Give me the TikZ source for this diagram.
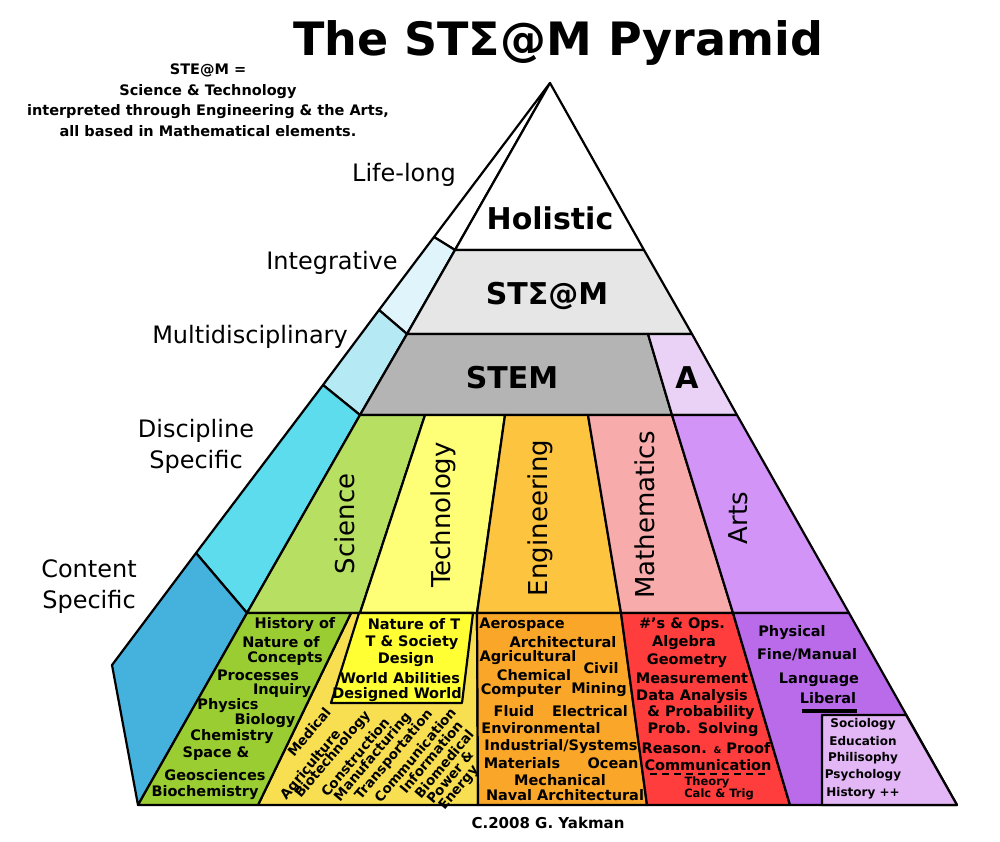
\documentclass[tikz,border=0pt]{standalone}
\usepackage{fontspec}
\setmainfont{DejaVu Sans}
\definecolor{intcol}{HTML}{E0F5FB}
\definecolor{multicol}{HTML}{B5EAF5}
\definecolor{disccol}{HTML}{5CDCEC}
\definecolor{contcol}{HTML}{45B1DD}
\definecolor{steamcol}{HTML}{E6E6E6}
\definecolor{stemcol}{HTML}{B4B4B4}
\definecolor{acol}{HTML}{E9D2F5}
\definecolor{scicol}{HTML}{B7E063}
\definecolor{techcol}{HTML}{FFFF77}
\definecolor{engcol}{HTML}{FDC43F}
\definecolor{mathcol}{HTML}{F7ABAB}
\definecolor{artscol}{HTML}{D394F7}
\definecolor{scibox}{HTML}{9ACD32}
\definecolor{techbox}{HTML}{F8DF52}
\definecolor{naturebox}{HTML}{FFFF33}
\definecolor{engbox}{HTML}{FAA628}
\definecolor{mathbox}{HTML}{FF3D3D}
\definecolor{artsbox}{HTML}{B96BEA}
\definecolor{subbox}{HTML}{E3B6F5}
\begin{document}
\begin{tikzpicture}[x=1pt, y=-1pt,
  face/.style={draw=black, line width=2.2pt, line join=round},
  lbl/.style={font=\fontsize{24}{31}\selectfont, align=center},
  band/.style={font=\bfseries\fontsize{30}{32}\selectfont},
  col/.style={rotate=90, font=\fontsize{26}{28}\selectfont},
  item/.style={font=\bfseries\fontsize{14.5}{16}\selectfont, inner sep=0pt},
  small/.style={font=\bfseries\fontsize{11.5}{13}\selectfont, inner sep=0pt},
  techword/.style={rotate=50, font=\bfseries\fontsize{13.5}{14}\selectfont, inner sep=0pt}
]
\useasboundingbox (0,0) rectangle (1000,842);

% corner points of the pyramid
\coordinate (apex) at (550,83);
\coordinate (o1) at (434,237);
\coordinate (o2) at (379,310);
\coordinate (o3) at (323,385);
\coordinate (o4) at (196,553);
\coordinate (o5) at (112,665);
\coordinate (f1) at (455,250);
\coordinate (f2) at (407,334);
\coordinate (f3) at (360,415);
\coordinate (f4) at (247,613);
\coordinate (f5) at (138,805);
\coordinate (r1) at (644,250);
\coordinate (r2) at (692,334);
\coordinate (r3) at (737,415);
\coordinate (r4) at (849,613);
\coordinate (r6) at (906,715);
\coordinate (r5) at (957,805);
\coordinate (a1) at (648,334);
\coordinate (c1) at (425,415);
\coordinate (c2) at (505,415);
\coordinate (c3) at (588,415);
\coordinate (c4) at (672,415);
\coordinate (b1) at (360,613);
\coordinate (b2) at (477,613);
\coordinate (b3) at (621,613);
\coordinate (b4) at (733,613);
\coordinate (s1) at (351,613);
\coordinate (s2) at (258,805);
\coordinate (e1) at (478,805);
\coordinate (e2) at (647,805);
\coordinate (m1) at (790,805);
\coordinate (n1) at (359,613);
\coordinate (n2) at (473,613);
\coordinate (n3) at (462,703);
\coordinate (n4) at (331,703);
\coordinate (u1) at (822,715);
\coordinate (u2) at (822,805);

% side face
\filldraw[face, fill=white] (apex) -- (o1) -- (f1) -- cycle;
\filldraw[face, fill=intcol] (o1) -- (o2) -- (f2) -- (f1) -- cycle;
\filldraw[face, fill=multicol] (o2) -- (o3) -- (f3) -- (f2) -- cycle;
\filldraw[face, fill=disccol] (o3) -- (o4) -- (f4) -- (f3) -- cycle;
\filldraw[face, fill=contcol] (o4) -- (o5) -- (f5) -- (f4) -- cycle;

% front bands
\filldraw[face, fill=white] (apex) -- (f1) -- (r1) -- cycle;
\filldraw[face, fill=steamcol] (f1) -- (r1) -- (r2) -- (f2) -- cycle;
\filldraw[face, fill=stemcol] (f2) -- (a1) -- (c4) -- (f3) -- cycle;
\filldraw[face, fill=acol] (a1) -- (r2) -- (r3) -- (c4) -- cycle;

% discipline columns
\filldraw[face, fill=scicol] (f3) -- (c1) -- (b1) -- (f4) -- cycle;
\filldraw[face, fill=techcol] (c1) -- (c2) -- (b2) -- (b1) -- cycle;
\filldraw[face, fill=engcol] (c2) -- (c3) -- (b3) -- (b2) -- cycle;
\filldraw[face, fill=mathcol] (c3) -- (c4) -- (b4) -- (b3) -- cycle;
\filldraw[face, fill=artscol] (c4) -- (r3) -- (r4) -- (b4) -- cycle;

% content boxes
\filldraw[face, fill=techbox] (s1) -- (b2) -- (e1) -- (s2) -- cycle;
\filldraw[face, fill=scibox] (f4) -- (s1) -- (s2) -- (f5) -- cycle;
\filldraw[face, fill=naturebox] (n1) -- (n2) -- (n3) -- (n4) -- cycle;
\filldraw[face, fill=engbox] (b2) -- (b3) -- (e2) -- (e1) -- cycle;
\filldraw[face, fill=mathbox] (b3) -- (b4) -- (m1) -- (e2) -- cycle;
\filldraw[face, fill=artsbox] (b4) -- (r4) -- (r5) -- (m1) -- cycle;
\filldraw[face, fill=subbox] (u1) -- (r6) -- (r5) -- (u2) -- cycle;

% title and notes
\node[font=\bfseries\fontsize{46}{48}\selectfont] (title) at (558,43) {The STΣ@M Pyramid};
\node[font=\bfseries\fontsize{14.5}{20.5}\selectfont, align=center] (note) at (208,100)
  {STE@M =\\Science \& Technology\\interpreted through Engineering \& the Arts,\\all based in Mathematical elements.};
\node[font=\bfseries\fontsize{15}{16}\selectfont] (credit) at (548,823) {C.2008 G. Yakman};

% side labels
\node[lbl] (lifelong) at (404,175) {Life-long};
\node[lbl] (integrative) at (332,263) {Integrative};
\node[lbl] (multi) at (250,337) {Multidisciplinary};
\node[lbl] (discipline) at (196,446) {Discipline\\Specific};
\node[lbl] (content) at (89,587) {Content\\Specific};

% band labels
\node[band] (holistic) at (550,218) {Holistic};
\node[band] (steam) at (547,296) {STΣ@M};
\node[band] (stem) at (512,378) {STEM};
\node[band] (arta) at (687,378) {A};

% column labels
\node[col] (science) at (345,524) {Science};
\node[col] (technology) at (443,515) {Technology};
\node[col] (engineering) at (540,518) {Engineering};
\node[col] (mathematics) at (645,515) {Mathematics};
\node[col] (arts) at (738,518) {Arts};

% science content
\foreach \x/\y/\t [count=\i] in {295/625/History of, 281/642/Nature of, 285/659/Concepts,
    258/675/Processes, 282/691/Inquiry, 228/706/Physics, 265/721/Biology, 232/737/Chemistry,
    216/754/Space \&, 215/775/Geosciences, 205/793/Biochemistry}
  \node[item] (sci\i) at (\x,\y) {\t};

% technology content
\foreach \x/\y/\t [count=\i] in {414/624/Nature of T, 412/643/T \& Society, 406/660/Design,
    400/678/World Abilities, 397/695/Designed World}
  \node[item] (tec\i) at (\x,\y) {\t};
\foreach \x/\y/\t [count=\i] in {309/732/Medical, 311/765/Agriculture, 333/755/Biotechnology,
    355/757/Construction, 373/757/Manufacturing, 394/755/Transportation, 415/755/Communication,
    431/757/Information, 444/764/Biomedical, 450/777/Power \&, 459/788/Energy}
  \node[techword] (tw\i) at (\x,\y) {\t};

% engineering content
\foreach \x/\y/\t [count=\i] in {522/625/Aerospace, 563/642/Architectural, 528/658/Agricultural,
    601/668/Civil, 534/675/Chemical, 521/691/Computer, 599/690/Mining, 514/711/Fluid,
    590/711/Electrical, 541/728/Environmental, 561/747/{Industrial/Systems}, 522/763/Materials,
    613/763/Ocean, 560/780/Mechanical, 565/795/Naval Architectural}
  \node[item] (eng\i) at (\x,\y) {\t};

% mathematics content
\foreach \x/\y/\t [count=\i] in {682/625/\#'s \& Ops., 684/643/Algebra, 687/661/Geometry,
    692/678/Measurement, 692/697/Data Analysis, 701/713/\& Probability, 703/730/Prob. Solving,
    706/748/{Reason. {\fontsize{9}{10}\selectfont\&} Proof}, 708/765/Communication}
  \node[item] (mat\i) at (\x,\y) {\t};
\node[small] (theory) at (707,782) {Theory};
\node[small] (calc) at (719,794) {Calc \& Trig};
\draw[line width=1.5pt, dash pattern=on 7pt off 5pt] (650,774) -- (767,774);

% arts content
\foreach \x/\y/\t [count=\i] in {792/633/Physical, 807/655/{Fine/Manual}, 819/680/Language,
    828/698/Liberal}
  \node[item] (art\i) at (\x,\y) {\t};
\draw[line width=3.5pt] (802,711) -- (857,711);
\foreach \y/\t [count=\i] in {724/Sociology, 741/Education, 758/Philisophy, 775/Psychology,
    793/History ++}
  \node[small, font=\bfseries\fontsize{12}{13}\selectfont] (lib\i) at (863,\y) {\t};
\end{tikzpicture}
\end{document}
